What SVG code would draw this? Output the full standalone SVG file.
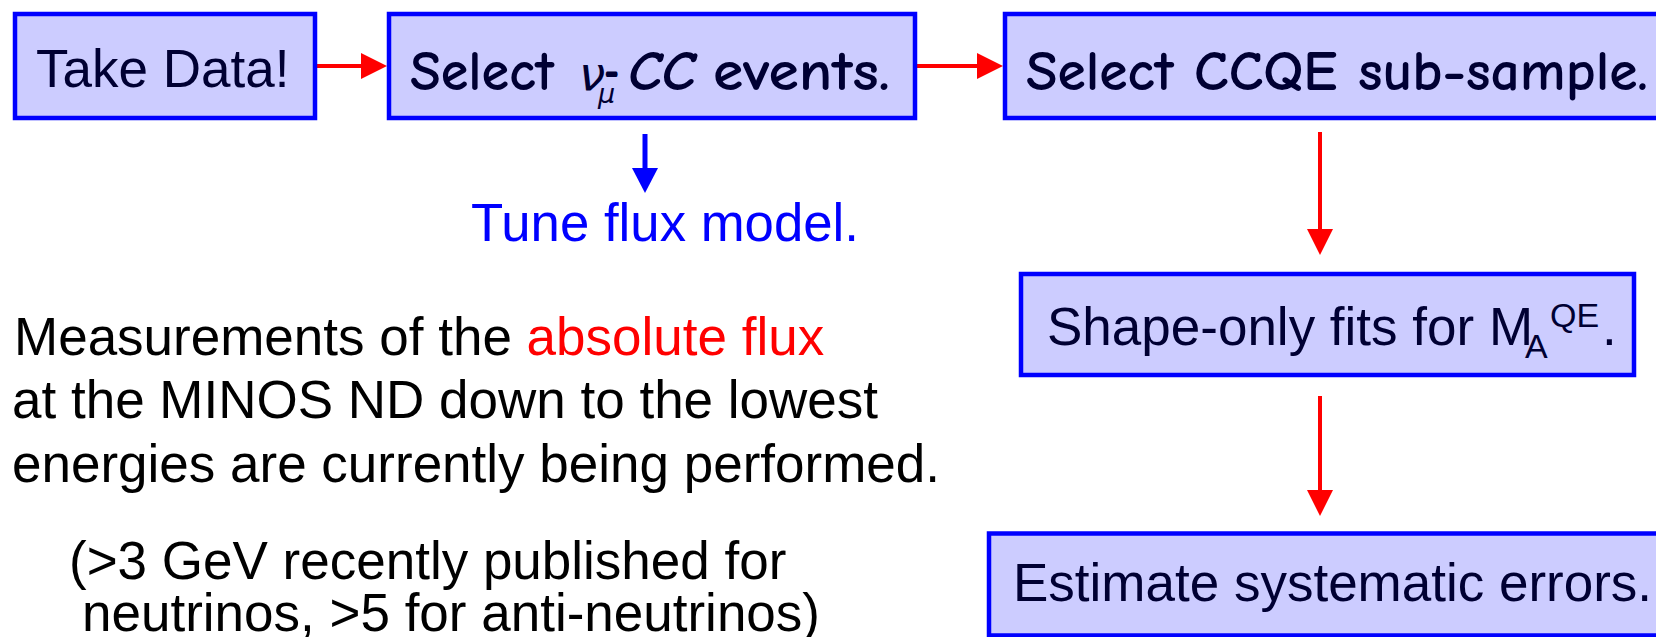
<svg xmlns="http://www.w3.org/2000/svg" width="1656" height="637" viewBox="0 0 1656 637">
<style>
  .box { fill: #ccccff; stroke: #0000ff; stroke-width: 4.5; }
  .bt { font-family: "Liberation Sans", Arial, sans-serif; font-size: 53px; fill: #000033; }
  .cs { font-family: "Comic Sans MS", "Comic Neue", "DejaVu Sans", sans-serif; font-size: 57px; font-weight: bold; fill: #000033; }
  .gr { font-family: "DejaVu Sans", sans-serif; font-style: oblique; fill: #000033; }
  .txt { font-family: "Liberation Sans", Arial, sans-serif; font-size: 53px; fill: #000000; }
  .red { stroke: #ff0000; stroke-width: 4; fill: none; }
  .blue { stroke: #0000ff; stroke-width: 5; fill: none; }
</style>
<defs>
  <marker id="ahR" markerUnits="userSpaceOnUse" markerWidth="26" markerHeight="26" refX="6" refY="13" orient="auto">
    <path d="M0,0 L26,13 L0,26 Z" fill="#ff0000"/>
  </marker>
  <marker id="ahB" markerUnits="userSpaceOnUse" markerWidth="26" markerHeight="26" refX="5" refY="13" orient="auto">
    <path d="M0,0 L25,13 L0,26 Z" fill="#0000ff"/>
  </marker>
</defs>
<rect width="1656" height="637" fill="#ffffff"/>

<g id="connectors">
  <line class="red" x1="317" y1="66" x2="367" y2="66" marker-end="url(#ahR)"/>
  <line class="red" x1="917" y1="66" x2="983" y2="66" marker-end="url(#ahR)"/>
  <line class="red" x1="1320" y1="132" x2="1320" y2="235" marker-end="url(#ahR)"/>
  <line class="red" x1="1320" y1="396" x2="1320" y2="496" marker-end="url(#ahR)"/>
  <line class="blue" x1="645" y1="134" x2="645" y2="173" marker-end="url(#ahB)"/>
</g>

<g id="take-data">
  <rect class="box" x="15" y="14" width="300" height="104"/>
  <text class="bt" x="36" y="87">Take Data!</text>
</g>

<g id="select-numu-cc">
  <rect class="box" x="389" y="14" width="526" height="104"/>
  <text class="cs" x="410" y="90" textLength="144" lengthAdjust="spacingAndGlyphs">Select</text>
  <text class="gr" x="579" y="90" style="font-size:47px">ν</text>
  <text class="gr" x="598" y="103" style="font-size:27px">μ</text>
  <text class="cs" x="604" y="88" textLength="16" lengthAdjust="spacingAndGlyphs">–</text>
  <text class="cs" x="628" y="90" font-style="italic" textLength="67" lengthAdjust="spacingAndGlyphs">CC</text>
  <text class="cs" x="713" y="90" textLength="177" lengthAdjust="spacingAndGlyphs">events.</text>
</g>

<g id="select-ccqe">
  <rect class="box" x="1005" y="14" width="700" height="104"/>
  <text class="cs" x="1026" y="90" textLength="622" lengthAdjust="spacingAndGlyphs">Select CCQE sub-sample.</text>
</g>

<g id="tune-flux">
  <text class="txt" x="471" y="241" style="fill:#0000ff" textLength="388" lengthAdjust="spacingAndGlyphs">Tune flux model.</text>
</g>

<g id="shape-fits">
  <rect class="box" x="1021" y="274" width="613" height="101"/>
  <text class="bt" x="1047" y="345">Shape-only fits for M</text>
  <text class="bt" x="1525" y="358" style="font-size:34px">A</text>
  <text class="bt" x="1550" y="327" style="font-size:34px">QE</text>
  <text class="bt" x="1602" y="345">.</text>
</g>

<g id="systematics">
  <rect class="box" x="989" y="533.5" width="700" height="102"/>
  <text class="bt" x="1013" y="601">Estimate systematic errors.</text>
</g>

<g id="flux-note">
  <text class="txt" x="14" y="355">Measurements of the <tspan fill="#ff0000">absolute flux</tspan></text>
  <text class="txt" x="12" y="418">at the MINOS ND down to the lowest</text>
  <text class="txt" x="12" y="482">energies are currently being performed.</text>
  <text class="txt" x="69" y="579">(&gt;3 GeV recently published for</text>
  <text class="txt" x="82" y="631">neutrinos, &gt;5 for anti-neutrinos)</text>
</g>
</svg>
